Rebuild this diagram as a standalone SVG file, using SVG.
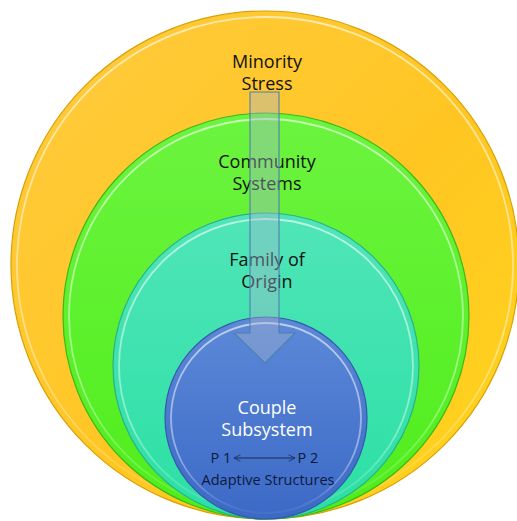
<svg xmlns="http://www.w3.org/2000/svg" width="517" height="521" viewBox="0 0 517 521">
  <defs>
    <linearGradient id="gYellow" x1="0" y1="0" x2="1" y2="1">
      <stop offset="0" stop-color="#FFCB40"/>
      <stop offset="0.55" stop-color="#FFC622"/>
      <stop offset="1" stop-color="#FFD51C"/>
    </linearGradient>
    <linearGradient id="gGreen" x1="0" y1="0" x2="0" y2="1">
      <stop offset="0" stop-color="#6CF43F"/>
      <stop offset="1" stop-color="#4FED1B"/>
    </linearGradient>
    <linearGradient id="gTeal" x1="0" y1="0" x2="0" y2="1">
      <stop offset="0" stop-color="#50E5B8"/>
      <stop offset="1" stop-color="#2BE0A4"/>
    </linearGradient>
    <linearGradient id="gBlue" x1="0" y1="0" x2="0" y2="1">
      <stop offset="0" stop-color="#5D89D8"/>
      <stop offset="1" stop-color="#3B69C6"/>
    </linearGradient>
    <!-- glossy bevel ring, fading toward the bottom -->
    <linearGradient id="gShine" x1="0" y1="0" x2="0" y2="1">
      <stop offset="0" stop-color="#ffffff" stop-opacity="0.6"/>
      <stop offset="0.7" stop-color="#ffffff" stop-opacity="0.4"/>
      <stop offset="1" stop-color="#ffffff" stop-opacity="0.05"/>
    </linearGradient>
    <marker id="openHead" viewBox="0 0 10 10" refX="9" refY="5" markerWidth="8" markerHeight="8" orient="auto-start-reverse" markerUnits="userSpaceOnUse">
      <path d="M1,1 L9,5 L1,9" fill="none" stroke="#1a2a55" stroke-width="1"/>
    </marker>
  </defs>
  <style>
    .ring { stroke-width: 1.2; }
    .shine { fill: none; stroke: url(#gShine); stroke-width: 1.8; }
    .lbl { font-family: "Open Sans", "Liberation Sans", sans-serif; font-size: 18px; text-anchor: middle; fill: #111111; }
    .lblW { fill: #ffffff; }
    .small { font-family: "Open Sans", "Liberation Sans", sans-serif; font-size: 14.5px; text-anchor: middle; fill: #0d1a3d; }
  </style>

  <g id="minority-stress">
    <circle cx="265" cy="265" r="254" fill="url(#gYellow)" stroke="#D9A000" class="ring"/>
    <circle cx="265" cy="265" r="248" class="shine"/>
    <text class="lbl" x="267" y="68">Minority</text>
    <text class="lbl" x="267" y="90">Stress</text>
  </g>

  <g id="community-systems">
    <circle cx="266" cy="316" r="203" fill="url(#gGreen)" stroke="#3CB81A" class="ring"/>
    <circle cx="266" cy="316" r="197" class="shine"/>
    <text class="lbl" x="267" y="168">Community</text>
    <text class="lbl" x="267" y="190">Systems</text>
  </g>

  <g id="family-of-origin">
    <circle cx="266" cy="366" r="153" fill="url(#gTeal)" stroke="#2BB08A" class="ring"/>
    <circle cx="266" cy="366" r="147" class="shine"/>
    <text class="lbl" x="267" y="266">Family of</text>
    <text class="lbl" x="267" y="288">Origin</text>
  </g>

  <g id="couple-subsystem">
    <circle cx="266" cy="418" r="101" fill="url(#gBlue)" stroke="#3559A8" class="ring"/>
    <circle cx="266" cy="418" r="95" class="shine"/>
    <text class="lbl lblW" x="267" y="414">Couple</text>
    <text class="lbl lblW" x="267" y="436">Subsystem</text>
  </g>

  <g id="connectors">
    <!-- downward block arrow through the rings -->
    <path d="M250,92 L279,92 L279,333 L295,333 L265,363 L234,333 L250,333 Z"
          fill="#A4B4CC" fill-opacity="0.4" stroke="#4F7FB0" stroke-width="1.1"/>
  </g>

  <g id="adaptive-structures">
    <text class="small" x="221" y="463">P 1</text>
    <text class="small" x="308" y="463">P 2</text>
    <line x1="234" y1="458" x2="295" y2="458" stroke="#1a2a55" stroke-width="1" marker-start="url(#openHead)" marker-end="url(#openHead)"/>
    <text class="small" x="268" y="485">Adaptive Structures</text>
  </g>
</svg>
